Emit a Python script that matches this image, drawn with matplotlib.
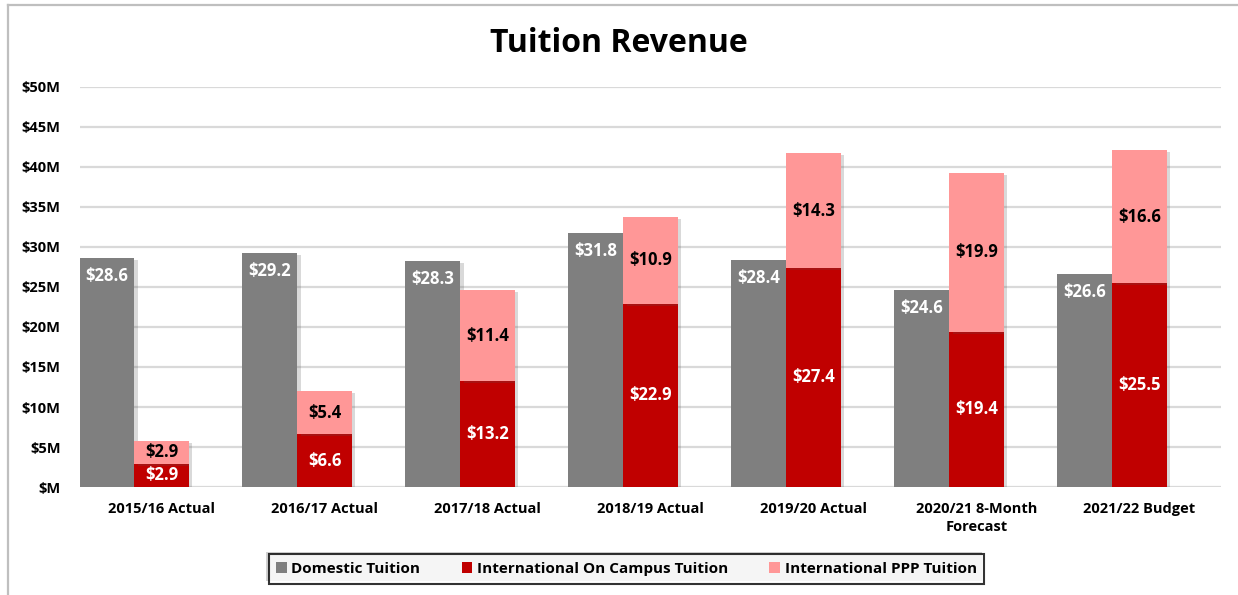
import matplotlib.pyplot as plt
import matplotlib.patheffects as pe
from matplotlib.lines import Line2D
from matplotlib.patches import Patch
import numpy as np

# chart values ($M)
categories = ["2015/16 Actual", "2016/17 Actual", "2017/18 Actual", "2018/19 Actual",
              "2019/20 Actual", "2020/21 8-Month\nForecast", "2021/22 Budget"]
domestic = [28.6, 29.2, 28.3, 31.8, 28.4, 24.6, 26.6]
intl_campus = [2.9, 6.6, 13.2, 22.9, 27.4, 19.4, 25.5]
intl_ppp = [2.9, 5.4, 11.4, 10.9, 14.3, 19.9, 16.6]
y_ticks = [0, 5, 10, 15, 20, 25, 30, 35, 40, 45, 50]
y_tick_labels = ["$M", "$5M", "$10M", "$15M", "$20M", "$25M", "$30M", "$35M",
                 "$40M", "$45M", "$50M"]
series_names = ["Domestic Tuition", "International On Campus Tuition", "International PPP Tuition"]

gray = "#7f7f7f"
red = "#c00000"
pink = "#ff9797"

plt.rcParams['font.family'] = ['Open Sans', 'DejaVu Sans']
plt.rcParams['font.weight'] = 'bold'

fig = plt.figure(figsize=(12.38, 5.95), dpi=100)
ax = fig.add_axes([80 / 1238, 1 - 487 / 595, (1221 - 80) / 1238, (487 - 87) / 595])

x = np.arange(len(categories))
w = 0.337
shadow = [pe.SimplePatchShadow(offset=(2.5, -1.5), shadow_rgbFace="#555555", alpha=0.22), pe.Normal()]

b1 = ax.bar(x - w, domestic, width=w, color=gray, zorder=3)
b2 = ax.bar(x, intl_campus, width=w, color=red, zorder=3)
b3 = ax.bar(x, intl_ppp, width=w, bottom=intl_campus, color=pink, zorder=3)
for bars in (b1, b2, b3):
    for p in bars:
        p.set_path_effects(shadow)

# data labels
for i in range(len(categories)):
    ax.annotate(f"${domestic[i]:.1f}", (x[i] - w, domestic[i]), xytext=(0, -6.5),
                textcoords="offset points", ha="center", va="top",
                color="white", fontsize=12, fontweight="bold", zorder=5)
    ax.text(x[i], intl_campus[i] / 2, f"${intl_campus[i]:.1f}", ha="center", va="center",
            color="white", fontsize=12, fontweight="bold", zorder=5)
    ax.text(x[i], intl_campus[i] + intl_ppp[i] / 2, f"${intl_ppp[i]:.1f}", ha="center",
            va="center", color="black", fontsize=12, fontweight="bold", zorder=5)

ax.set_xlim(-0.5, len(categories) - 0.5)
ax.set_ylim(0, 50)
ax.set_yticks(y_ticks)
ax.set_yticklabels(y_tick_labels)
ax.set_xticks(x)
ax.set_xticklabels(categories, linespacing=1.3)
ax.tick_params(axis="both", length=0, labelsize=10.5, pad=11)
ax.tick_params(axis="y", pad=14)
ax.grid(axis="y", color="#d9d9d9", linewidth=1.6, zorder=0)
ax.set_axisbelow(True)
for s in ax.spines.values():
    s.set_visible(False)

fig.text(0.5, 1 - 43 / 595, "Tuition Revenue", ha="center", va="center",
         fontsize=23, fontweight="bold")

handles = [Patch(facecolor=c) for c in (gray, red, pink)]
leg = fig.legend(handles, series_names, loc="center", bbox_to_anchor=(626.5 / 1238, 1 - 569 / 595),
                 ncol=3, frameon=True, fancybox=False, edgecolor="black", fontsize=11,
                 handlelength=0.7, handleheight=0.7, handletextpad=0.3, columnspacing=2.7,
                 borderpad=0.5, borderaxespad=0)
leg.get_frame().set_linewidth(1.5)
leg.get_frame().set_path_effects([pe.SimplePatchShadow(offset=(-2, 2), alpha=0.25), pe.Normal()])

# chart area border (top and left visible)
fig.add_artist(Line2D([8 / 1238, 8 / 1238], [0, 1 - 5 / 595], color="#bfbfbf", lw=1.6,
                      transform=fig.transFigure))
fig.add_artist(Line2D([8 / 1238, 1], [1 - 5 / 595, 1 - 5 / 595], color="#bfbfbf", lw=1.6,
                      transform=fig.transFigure))

plt.savefig("out.png", dpi=100)
